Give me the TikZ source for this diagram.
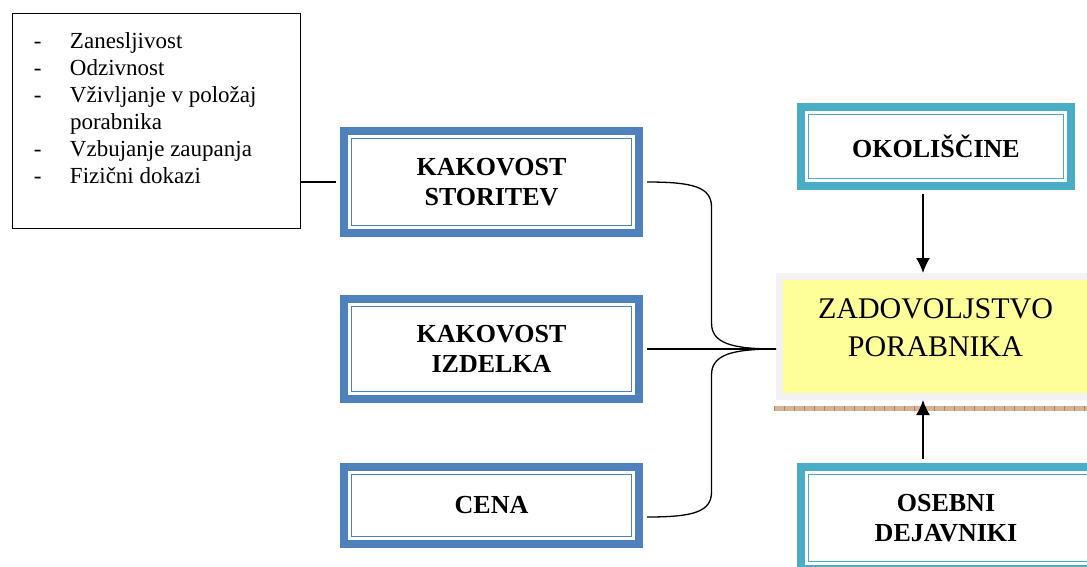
\documentclass[tikz,border=0pt]{standalone}
\usepackage{fontspec}
\setmainfont{Liberation Serif}
\usetikzlibrary{positioning, arrows.meta}

\definecolor{modra}{RGB}{79,129,189}
\definecolor{tirkizna}{RGB}{75,172,198}
\definecolor{rumena}{RGB}{255,255,153}
\definecolor{siva}{RGB}{242,242,242}
\definecolor{rjava}{RGB}{216,178,150}
\definecolor{temnorjava}{RGB}{190,128,92}

\tikzset{
  seznam/.style={draw, line width=1pt, inner xsep=22pt, inner ysep=17pt,
    font=\fontsize{23}{27}\selectfont},
  napis/.style={font=\bfseries\fontsize{26}{30}\selectfont, align=center},
  dejavnik/.style={draw=#1, line width=8pt, fill=white, minimum width=295pt, napis,
    path picture={\draw[#1, line width=1.5pt]
      ([shift={(7.5pt,-7.5pt)}]path picture bounding box.north west) rectangle
      ([shift={(-7.5pt,7.5pt)}]path picture bounding box.south east);}},
  cilj/.style={draw=siva, line width=7pt, fill=rumena,
    minimum width=340pt, minimum height=120pt},
  povezava/.style={line width=1.3pt},
  strelica/.style={-{Latex[length=15pt,width=14pt]}, line width=1.5pt,
    shorten <=4pt}
}

\begin{document}
\begin{tikzpicture}[x=1pt, y=1pt, on grid]
  \useasboundingbox (0,0) rectangle (1087,-566);
  \clip (0,0) rectangle (1087,-566);

  \node[seznam] (lastnosti) at (156,-121) {%
    \begin{tabular}{@{}p{36pt}@{}p{208pt}@{}}
      - & Zanesljivost\\
      - & Odzivnost\\
      - & Vživljanje v položaj\\
        & porabnika\\
      - & Vzbujanje zaupanja\\
      - & Fizični dokazi\rule[-28pt]{0pt}{0pt}
    \end{tabular}};

  \node[dejavnik=modra, minimum height=102pt] (storitev) at (491.5,-182) {KAKOVOST\\STORITEV};
  \node[dejavnik=modra, minimum height=100pt] (izdelek) [below=167pt of storitev] {KAKOVOST\\IZDELKA};
  \node[dejavnik=modra, minimum height=77pt] (cena) [below=156.5pt of izdelek] {CENA};

  \node[dejavnik=tirkizna, minimum width=270pt, minimum height=79pt] (okoliscine) at (936,-146.5) {OKOLIŠČINE};
  \node[cilj, label={[yshift=8.5pt, xshift=-14pt, font=\fontsize{30}{38}\selectfont, align=center]center:ZADOVOLJSTVO\\PORABNIKA}]
    (zadovoljstvo) at (949.5,-336.5) {};
  \node[dejavnik=tirkizna, minimum width=310pt, minimum height=102pt,
    label={[napis, xshift=-10pt]center:OSEBNI\\DEJAVNIKI}] (osebni) at (956,-518) {};

  % senca pod ciljem
  \fill[rjava] ([shift={(-2pt,-5.5pt)}]zadovoljstvo.south west) rectangle ([shift={(4pt,-10.5pt)}]zadovoljstvo.south east);
  \draw[temnorjava, line width=5pt, dash pattern=on 1pt off 9pt]
    ([shift={(-2pt,-8pt)}]zadovoljstvo.south west) -- ([shift={(4pt,-8pt)}]zadovoljstvo.south east);

  \coordinate (stik) at (izdelek.east -| zadovoljstvo.west);
  \coordinate (ulaz) at ([xshift=-13pt]okoliscine.center);

  \draw[povezava, shorten >=4pt] (storitev.west -| lastnosti.east) -- (storitev.west);
  \draw[povezava, shorten <=4pt] (storitev.east) .. controls +(50,0) and +(0,20) .. ++(68.5,-25)
    -- ++(0,-116) .. controls +(0,-20) and +(-45,0) .. (stik);
  \draw[povezava, shorten <=4pt] (izdelek.east) -- (stik);
  \draw[povezava, shorten <=4pt] ([yshift=-11.5pt]cena.east) .. controls +(50,0) and +(0,-20) .. ++(68.5,25)
    -- ++(0,117) .. controls +(0,20) and +(-45,0) .. (stik);

  \draw[strelica] (okoliscine.south -| ulaz) -- (zadovoljstvo.north -| ulaz);
  \draw[strelica] (osebni.north -| ulaz) -- (zadovoljstvo.south -| ulaz);
\end{tikzpicture}
\end{document}
